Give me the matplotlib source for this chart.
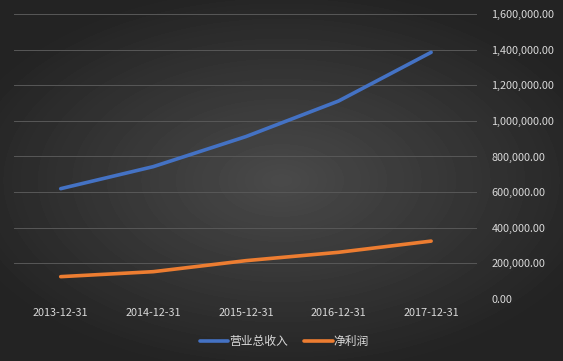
import numpy as np
import matplotlib
matplotlib.use('Agg')
import matplotlib.pyplot as plt
from matplotlib.ticker import FuncFormatter

plt.rcParams['font.family'] = ['Noto Sans CJK SC', 'DejaVu Sans']

# data
dates = ['2013-12-31', '2014-12-31', '2015-12-31', '2016-12-31', '2017-12-31']
revenue = [619000, 743000, 912000, 1112000, 1386000]   # 营业总收入
profit = [124000, 152000, 214000, 261000, 324000]      # 净利润
series_names = ['营业总收入', '净利润']

fig = plt.figure(figsize=(5.63, 3.61), dpi=100)

# radial gradient background
bg = fig.add_axes([0, 0, 1, 1], zorder=0)
yy, xx = np.mgrid[-1:1:361j, -1:1:563j]
r = np.sqrt((xx / 1.1) ** 2 + (yy / 1.0) ** 2)
shade = np.clip(0.29 - 0.14 * r, 0.14, 0.29)
bg.imshow(shade, cmap='gray', vmin=0, vmax=1, aspect='auto', extent=[0, 1, 0, 1])
bg.axis('off')

ax = fig.add_axes([0.0256, 0.1726, 0.8224, 0.7878], zorder=1)
ax.patch.set_alpha(0)

x = np.arange(len(dates)) + 0.5
ax.plot(x, revenue, color='#4472C4', lw=2.6, solid_capstyle='round', label=series_names[0])
ax.plot(x, profit, color='#ED7D31', lw=2.6, solid_capstyle='round', label=series_names[1])

ax.set_xlim(0, len(dates))
ax.set_ylim(0, 1600000)
ax.set_yticks(np.arange(0, 1600001, 200000))
ax.yaxis.set_major_formatter(FuncFormatter(lambda v, p: f'{v:,.2f}'))
ax.yaxis.tick_right()
ax.set_xticks(x)
ax.set_xticklabels(dates)

ax.grid(axis='y', color='#585858', lw=0.7)
ax.set_axisbelow(True)
for s in ax.spines.values():
    s.set_visible(False)
ax.tick_params(axis='both', length=0, colors='#d9d9d9', labelsize=7.8)
ax.tick_params(axis='y', pad=10)
ax.tick_params(axis='x', pad=7)

leg = fig.legend(loc='center', bbox_to_anchor=(0.505, 0.053), ncol=2, frameon=False,
                 fontsize=8.5, handlelength=2.4, handletextpad=0.1, columnspacing=1.4)
for t in leg.get_texts():
    t.set_color('#d9d9d9')

fig.savefig('out.png', dpi=100)
